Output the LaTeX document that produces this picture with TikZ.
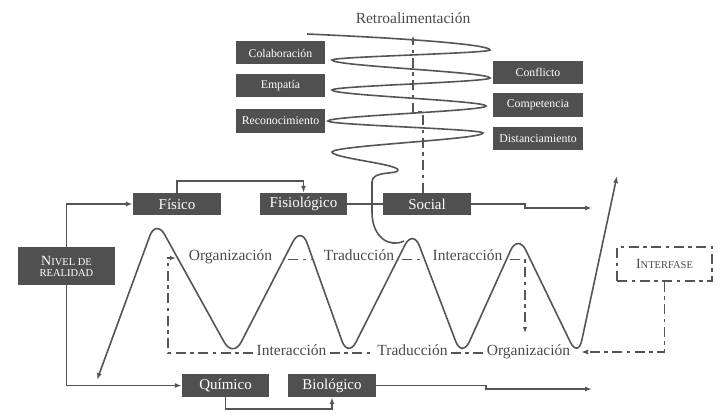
\documentclass[tikz,border=0pt]{standalone}
\usepackage{fontspec}
\setmainfont{Liberation Serif}
\usetikzlibrary{arrows.meta}
\definecolor{boxgray}{HTML}{505050}
\definecolor{linegray}{HTML}{555555}
\definecolor{txtgray}{HTML}{4A4A4A}
\newcommand{\bigsc}[2]{{\fontsize{14}{14}\selectfont #1}{\fontsize{10.5}{12}\selectfont #2}}
\begin{document}
\begin{tikzpicture}[x=1pt,y=-1pt,
  box/.style={fill=boxgray, text=white, inner sep=0pt, minimum height=22pt, font=\fontsize{15}{16}\selectfont},
  sbox/.style={fill=boxgray, text=white, inner sep=0pt, minimum width=89pt, minimum height=23pt, font=\fontsize{11.8}{13}\selectfont},
  lab/.style={text=txtgray, inner sep=3pt, font=\fontsize{15.5}{17}\selectfont},
  conn/.style={draw=linegray, line width=1.5pt},
  arr/.style={-{Latex[length=7pt,width=5pt]}},
  dd/.style={draw=linegray, line width=1.9pt, dash pattern=on 10pt off 4.5pt on 3.5pt off 4.5pt},
  wave/.style={draw=linegray, line width=1.6pt},
]
\useasboundingbox (0,0) rectangle (720,417);
\fill[white] (0,0) rectangle (720,417);

% title
\node[lab, inner sep=0pt] (title) at (413,18) {Retroalimentación};

% spiral
\draw[wave] (307,34) .. controls (420,39) and (490,45) .. (490,50)
 .. controls (490,53.3) and (332,56.7) .. (332,60)
 .. controls (332,66) and (490,72) .. (490,78)
 .. controls (490,82) and (332,86) .. (332,90)
 .. controls (332,95.3) and (486,100.7) .. (486,106)
 .. controls (486,111) and (328,116) .. (328,121)
 .. controls (328,125) and (483,129) .. (483,133)
 .. controls (483,139.3) and (332,145.7) .. (332,152)
 .. controls (332,158) and (398,164) .. (398,170)
 .. controls (398,175) and (372,170) .. (372,182)
 -- (372,212)
 .. controls (372,238) and (390,248) .. (404,241);

% spiral boxes
\node[sbox] (colab) at (280.5,53) {Colaboración};
\node[sbox] (empat) at (280.5,85.5) {Empatía};
\node[sbox, minimum height=24pt] (recon) at (280.5,121) {Reconocimiento};
\node[sbox, minimum width=90pt] (confl) at (538,72.5) {Conflicto};
\node[sbox, minimum width=90pt, minimum height=24pt] (compet) at (538,105) {Competencia};
\node[sbox, minimum width=90pt] (distan) at (538,138.5) {Distanciamiento};

% level boxes
\node[box, minimum width=88pt] (fisico) at (177,204) {Físico};
\node[box, minimum width=87pt] (fisiol) at (303.5,204) {Fisiológico};
\node[box, minimum width=88pt] (social) at (427,204) {Social};
\node[box, minimum width=87pt, minimum height=23pt] (quimico) at (225.5,385.5) {Químico};
\node[box, minimum width=88pt, minimum height=23pt] (biolog) at (332,385.5) {Biológico};
\node[fill=boxgray, text=white, inner sep=0pt, minimum width=97pt, minimum height=38pt, align=center]
  (nivel) at (66.5,266) {\bigsc{N}{IVEL DE}\\[-1pt]{\fontsize{10.5}{12}\selectfont REALIDAD}};
\node[dd, text=txtgray, inner sep=0pt, minimum width=95pt, minimum height=34pt]
  (interf) at (664.5,264) {\bigsc{I}{NTERFASE}};

% coordinates for free ends
\coordinate (socA) at (525,204);
\coordinate (socB) at (525,208);
\coordinate (socEnd) at (592,208);
\coordinate (bioA) at (486,385.5);
\coordinate (bioB) at (486,389);
\coordinate (bioEnd) at (592,389);
\coordinate (fbTop) at (413,35);
\coordinate (fbJ1) at (423,112);
\coordinate (fbJ2) at (413,112);

% solid connectors
\draw[conn, arr] (nivel.north) |- (fisico.west);
\draw[conn, arr] (nivel.south) |- (quimico.west);
\draw[conn, arr] (fisico.north) -- ++(0,-12) -| (fisiol.north);
\draw[conn] (fisiol.east) -- (social.west);
\draw[conn, arr] (social.east) -- (socA) -- (socB) -- (socEnd);
\draw[conn, arr] (quimico.south) -- ++(0,12) -| (biolog.south);
\draw[conn, arr] (biolog.east) -- (bioA) -- (bioB) -- (bioEnd);

% feedback dash-dot line
\draw[dd, -{Latex[length=6pt,width=3.5pt]}] ([xshift=-4pt]social.north) -- (fbJ1) -- (fbJ2) -- (fbTop);

% wave
\draw[wave, {Latex[length=7pt,width=5pt]}-{Latex[length=7pt,width=5pt]}, rounded corners=18pt]
  (97,380) -- (156,219) -- (233,358) -- (301,226) -- (348,358) -- (413,229) -- (462,358) -- (518,234) -- (578,358) -- (617,176);

% wave labels
\node[lab, anchor=mid] (org1) at (230.5,258) {Organización};
\node[lab, anchor=mid] (trad1) at (359,258) {Traducción};
\node[lab, anchor=mid] (inter1) at (467.5,258) {Interacción};
\node[lab, anchor=mid] (inter2) at (291.5,353) {Interacción};
\node[lab, anchor=mid] (trad2) at (412.5,353) {Traducción};
\node[lab, anchor=mid] (org2) at (528.5,353) {Organización};

% dashed connectors in the wave
\coordinate (bl1) at (168,353);
\coordinate (bl2) at (168,258);
\coordinate (bl3) at (176,258);
\draw[dd, -{Latex[length=6pt,width=4.5pt]}] (inter2.mid west) -- (bl1) -- (bl2) -- (bl3);
\draw[dd] (inter2.mid east) -- (trad2.mid west);
\draw[dd] (trad2.mid east) -- (org2.mid west);

\coordinate (t1a) at (288,259.5);
\coordinate (t1b) at (313,259.5);
\coordinate (t2a) at (402,259.5);
\coordinate (t2b) at (424,259.5);
\coordinate (t3a) at (510,259.5);
\coordinate (t3b) at (525,259.5);
\coordinate (t3c) at (525,333);
\draw[dd] (t1a) -- (t1b);
\draw[dd] (t2a) -- (t2b);
\draw[dd, -{Latex[length=6pt,width=4.5pt]}] (t3a) -- (t3b) -- (t3c);

\coordinate (ifA) at (664.5,352);
\coordinate (ifEnd) at (581,352);
\draw[dd, -{Latex[length=7pt,width=5pt]}] (interf.south) -- (ifA) -- (ifEnd);
\end{tikzpicture}
\end{document}
